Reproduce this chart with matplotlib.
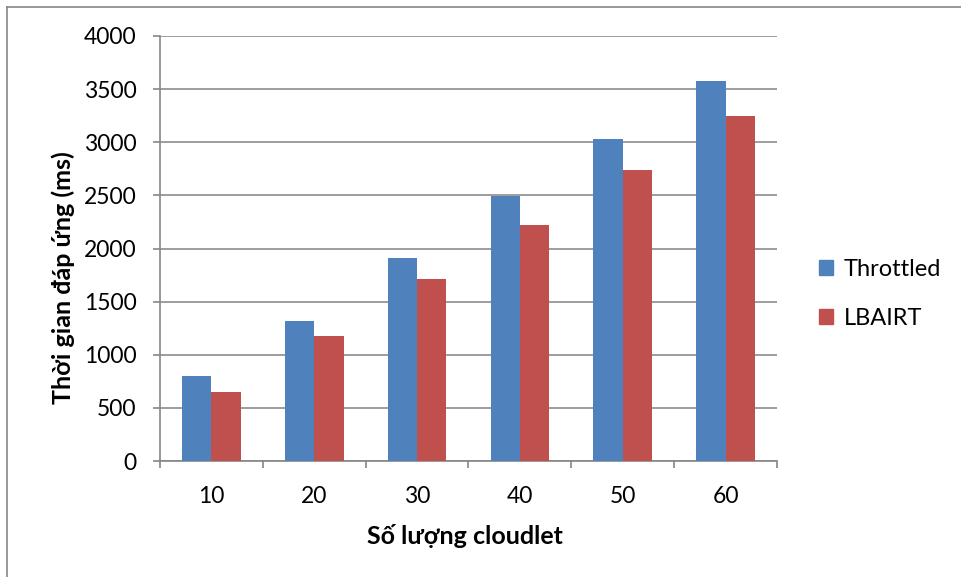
import matplotlib
matplotlib.use("Agg")
import matplotlib.pyplot as plt
import numpy as np
from matplotlib.lines import Line2D
from matplotlib.patches import Rectangle

plt.rcParams['font.family'] = ['Lato', 'Open Sans', 'DejaVu Sans']

categories = ["10", "20", "30", "40", "50", "60"]
throttled = [800, 1318, 1915, 2490, 3030, 3575]
lbairt = [650, 1175, 1710, 2220, 2740, 3250]
series_names = ["Throttled", "LBAIRT"]
colors = ["#4F81BD", "#C0504D"]

fig = plt.figure(figsize=(9.61, 5.77), dpi=100)
ax = fig.add_axes([160/961, 1-461/577, (777-160)/961, (461-36)/577])

x = np.arange(len(categories))
w = 0.285
ax.bar(x - w/2, throttled, w, color=colors[0], label=series_names[0], zorder=3)
ax.bar(x + w/2, lbairt, w, color=colors[1], label=series_names[1], zorder=3)

ax.set_xlim(-0.5, len(categories) - 0.5)
ax.set_ylim(0, 4000)
ax.set_yticks(np.arange(0, 4001, 500))
ax.set_xticks(x)
ax.set_xticklabels(categories)
ax.set_xticks(np.arange(-0.5, len(categories), 1), minor=True)
ax.tick_params(axis='x', which='major', length=0, pad=18, labelsize=16.5)
ax.tick_params(axis='x', which='minor', length=5, color='#868686', width=1.2)
ax.tick_params(axis='y', length=5, color='#868686', width=1.2, pad=12, labelsize=16.5)
ax.grid(axis='y', color='#8C8C8C', linewidth=1.2, zorder=0)
for s in ['top', 'right']:
    ax.spines[s].set_visible(False)
for s in ['left', 'bottom']:
    ax.spines[s].set_color('#868686')
    ax.spines[s].set_linewidth(1.2)

fig.text(63/961, 1-278/577, "Thời gian đáp ứng (ms)", rotation=90, fontsize=18,
         fontweight='bold', ha='center', va='center')
fig.text(465/961, 1-536/577, "Số lượng cloudlet", fontsize=18,
         fontweight='bold', ha='center', va='center')

handles = [Rectangle((0, 0), 1, 1, color=c) for c in colors]
fig.legend(handles, series_names, loc='center left', bbox_to_anchor=(798/961, 1-294/577),
           frameon=False, fontsize=17, handlelength=0.6, handleheight=0.6,
           labelspacing=1.2, handletextpad=0.45)

# outer chart border (top and left visible)
fig.add_artist(Line2D([7/961, 1], [1-7/577, 1-7/577], color='#868686', linewidth=1.2, transform=fig.transFigure))
fig.add_artist(Line2D([7/961, 7/961], [0, 1-7/577], color='#868686', linewidth=1.2, transform=fig.transFigure))

fig.savefig("out.png", dpi=100)
